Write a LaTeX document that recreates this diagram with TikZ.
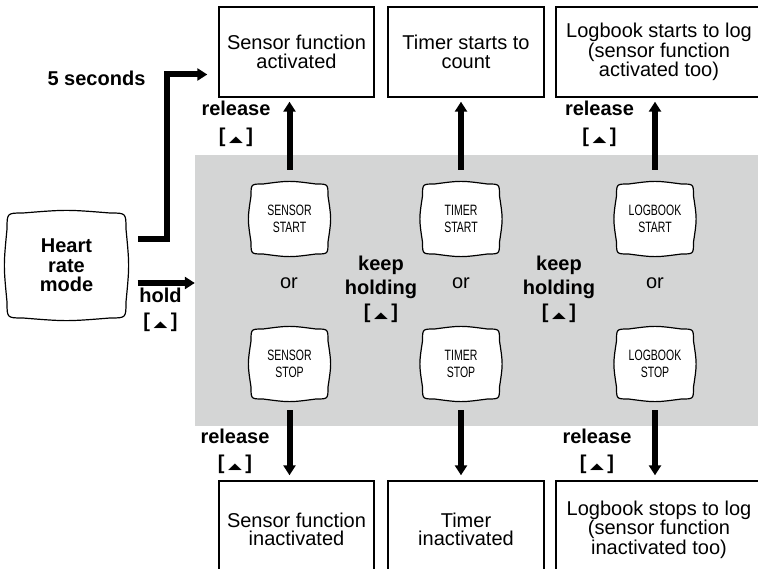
\documentclass[tikz,border=0pt]{standalone}
\usepackage{fontspec}
\setmainfont{Liberation Sans}
\newfontfamily\lcdfont[FakeStretch=0.7]{Liberation Sans}
\newfontfamily\symfont{DejaVu Sans}
\usetikzlibrary{arrows.meta,positioning,calc}

\definecolor{panelgray}{RGB}{212,213,213}
\newcommand{\btn}{[\hspace{3.5pt}\scalebox{1}[0.48]{\symfont\fontsize{18}{18}\selectfont ▲}\hspace{3.5pt}]}

\pgfdeclarelayer{bg}
\pgfdeclarelayer{mid}
\pgfsetlayers{bg,mid,main}

\tikzset{
  result/.style={rectangle, draw, line width=1.4pt, minimum height=90pt, inner sep=0pt, align=center, font=\fontsize{20}{18.5}\selectfont},
  lcd/.style={rectangle, minimum width=77pt, minimum height=70pt, inner sep=0pt, outer sep=0pt, align=center, font=\lcdfont\fontsize{15}{16.5}\selectfont},
  lcdline/.style={fill=white, draw, line width=1.2pt},
  tag/.style={align=center, font=\bfseries\fontsize{20}{25}\selectfont},
  ortext/.style={font=\fontsize{20}{20}\selectfont},
  bigarrow/.style={line width=6pt, -{Triangle[length=10pt,width=12pt]}},
}

\begin{document}
\begin{tikzpicture}[x=1pt, y=-1pt]
    \useasboundingbox (0,0) rectangle (758,569);

    % grey panel behind the buttons
    \begin{pgfonlayer}{bg}
        \node[fill=panelgray, minimum width=565pt, minimum height=271pt, inner sep=0pt] (panel) at (477.5,290.5) {};
    \end{pgfonlayer}

    % result boxes
    \node[result, minimum width=155pt] (sact) at (296.5,52) {Sensor function\\activated};
    \node[result, minimum width=156pt] (tact) at (466,52) {Timer starts to\\count};
    \node[result, minimum width=206pt] (lact) at (659,52) {Logbook starts to log\\(sensor function\\activated too)};
    \node[result, minimum width=155pt, minimum height=97pt] (sinact) at (296.5,529.5) {Sensor function\\inactivated};
    \node[result, minimum width=156pt, minimum height=97pt] (tinact) at (466,529.5) {Timer\\inactivated};
    \node[result, minimum width=206pt, minimum height=97pt] (linact) at (659,529.5) {Logbook stops to log\\(sensor function\\inactivated too)};

    % buttons
    \node[lcd, minimum width=119pt, minimum height=105pt, font=\bfseries\fontsize{20}{19.5}\selectfont] (heart) at (66.5,265.5) {Heart\\rate\\mode};
    \node[lcd] (sstart) at (289.5,219) {SENSOR\\START};
    \node[lcd, below=75pt of sstart] (sstop) {SENSOR\\STOP};
    \node[lcd, right=94.5pt of sstart] (tstart) {TIMER\\START};
    \node[lcd, below=75pt of tstart] (tstop) {TIMER\\STOP};
    \node[lcd, right=117pt of tstart] (lstart) {LOGBOOK\\START};
    \node[lcd, below=75pt of lstart] (lstop) {LOGBOOK\\STOP};

    \begin{pgfonlayer}{mid}
        \foreach \n/\r in {heart/16, sstart/12, sstop/12, tstart/12, tstop/12, lstart/12, lstop/12}
            \filldraw[lcdline] ([xshift=\r pt]\n.north west) .. controls ([yshift=3.5pt]\n.north) .. ([xshift=-\r pt]\n.north east)
                .. controls (\n.north east) .. ([yshift=-\r pt]\n.north east)
                .. controls ([xshift=3.5pt]\n.east) .. ([yshift=\r pt]\n.south east)
                .. controls (\n.south east) .. ([xshift=-\r pt]\n.south east)
                .. controls ([yshift=-3.5pt]\n.south) .. ([xshift=\r pt]\n.south west)
                .. controls (\n.south west) .. ([yshift=\r pt]\n.south west)
                .. controls ([xshift=-3.5pt]\n.west) .. ([yshift=-\r pt]\n.north west)
                .. controls (\n.north west) .. ([xshift=\r pt]\n.north west) -- cycle;
    \end{pgfonlayer}

    % labels
    \node[ortext] (or1) at (289,283) {or};
    \node[ortext] (or2) at (461,283) {or};
    \node[ortext] (or3) at (655,283) {or};
    \node[tag] (fivesec) at (96.5,78) {5 seconds};
    \node[tag] (hold) at (160.5,310) {hold\\\btn};
    \node[tag, font=\bfseries\fontsize{20}{24}\selectfont] (keep1) at (381,289) {keep\\holding\\\btn};
    \node[tag, font=\bfseries\fontsize{20}{24}\selectfont] (keep2) at (559,289) {keep\\holding\\\btn};
    \node[tag, font=\bfseries\fontsize{20}{27}\selectfont] (rel1) at (236,124) {release\\\btn};
    \node[tag, font=\bfseries\fontsize{20}{27}\selectfont] (rel2) at (599.5,124) {release\\\btn};
    \node[tag, font=\bfseries\fontsize{20}{26}\selectfont] (rel3) at (235,451) {release\\\btn};
    \node[tag, font=\bfseries\fontsize{20}{26}\selectfont] (rel4) at (597,451) {release\\\btn};

    % arrows
    \draw[bigarrow] ([xshift=12pt,yshift=26pt]heart.east) -- ++(28.5,0) |- ([xshift=-11pt,yshift=-22.5pt]sact.west);
    \draw[bigarrow] ([xshift=11.5pt,yshift=-17.5pt]heart.east) coordinate (h0) -- (h0 -| panel.west);
    \draw[bigarrow, shorten <=14pt, shorten >=4pt] (sstart.north) -- (sstart.north |- sact.south);
    \draw[bigarrow, shorten <=14pt, shorten >=4pt] (tstart.north) -- (tstart.north |- tact.south);
    \draw[bigarrow, shorten <=14pt, shorten >=4pt] (lstart.north) -- (lstart.north |- lact.south);
    \draw[bigarrow, shorten <=11pt, shorten >=5pt] (sstop.south) -- (sstop.south |- sinact.north);
    \draw[bigarrow, shorten <=11pt, shorten >=5pt] (tstop.south) -- (tstop.south |- tinact.north);
    \draw[bigarrow, shorten <=11pt, shorten >=5pt] (lstop.south) -- (lstop.south |- linact.north);
\end{tikzpicture}
\end{document}
